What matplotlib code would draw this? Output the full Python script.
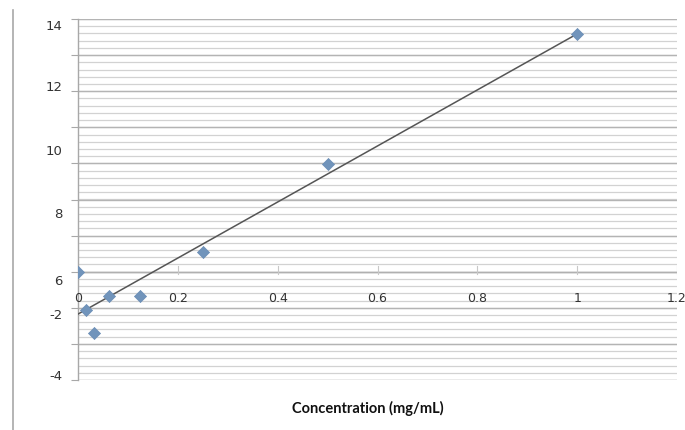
import numpy as np
import matplotlib
matplotlib.use("Agg")
import matplotlib.pyplot as plt
from matplotlib.lines import Line2D

# Data
concentration = [0.0, 0.015625, 0.03125, 0.0625, 0.125, 0.25, 0.5, 1.0]
response = [0.0, -2.12, -3.4, -1.35, -1.35, 1.1, 5.97, 13.17]

x_ticks = [0, 0.2, 0.4, 0.6, 0.8, 1.0, 1.2]
x_tick_labels = ["0", "0.2", "0.4", "0.6", "0.8", "1", "1.2"]
y_tick_labels = ["14", "12", "10", "8", "6", "-2", "-4"]
y_label_values = [13.67, 10.29, 6.74, 3.25, -0.45, -2.35, -5.72]
x_label = "Concentration (mg/mL)"

fig = plt.figure(figsize=(6.85, 4.30), dpi=100)
ax = fig.add_axes([78 / 685, 1 - 380 / 430, 599 / 685, 361 / 430])

ax.set_xlim(0, 1.2)
ax.set_ylim(-6, 14)

# gridlines
major_y = np.arange(-6, 14.01, 2)
minor_y = np.arange(-6, 14.01, 0.4)
for v in minor_y:
    ax.axhline(v, color="#d2d2d2", lw=0.9, zorder=0)
for v in major_y:
    ax.axhline(v, color="#b4b4b4", lw=1.0, zorder=0)

# spines
for s in ["top", "right", "bottom"]:
    ax.spines[s].set_visible(False)
ax.spines["left"].set_color("#a8a8a8")
ax.spines["left"].set_linewidth(1.0)

# x axis at y = 0
ax.axhline(0, color="#b0b0b0", lw=1.0, zorder=1)
ax.set_xticks(x_ticks)
ax.set_xticklabels([])
for xv, lab in zip(x_ticks, x_tick_labels):
    ax.plot([xv, xv], [-0.1, 0.3], color="#c8c8c8", lw=0.8, zorder=1)
    ax.annotate(lab, xy=(xv, 0), xytext=(0, -19), textcoords="offset points",
                ha="center", va="center", fontsize=9, color="#333333",
                family="DejaVu Sans", annotation_clip=False)
ax.tick_params(axis="x", length=0)

# y axis: major ticks at gridlines, labels at their reference places
ax.set_yticks(major_y)
ax.set_yticklabels([])
ax.tick_params(axis="y", which="major", length=5, color="#a8a8a8", direction="out")
ax.set_yticks(y_label_values, minor=True)
ax.set_yticklabels(y_tick_labels, minor=True)
ax.tick_params(axis="y", which="minor", length=0, pad=11, labelsize=9.5,
               labelcolor="#333333")

# trendline (least squares)
slope, intercept = np.polyfit(concentration, response, 1)
xs = np.array([min(concentration), max(concentration)])
ax.plot(xs, slope * xs + intercept, color="#555555", lw=1.1, zorder=3)

# data markers
ax.scatter(concentration, response, marker="D", s=38, color="#7194bb",
           edgecolors="#6a8db5", linewidths=0.5, zorder=4)

ax.text(0.483, -0.08, x_label, transform=ax.transAxes, ha="center", va="center",
        fontsize=10.5, fontweight="bold", family="Lato", color="#111111")

# left border of the chart area
fig.add_artist(Line2D([13 / 685, 13 / 685], [0, 1 - 10 / 430],
                      transform=fig.transFigure, color="#a8a8a8", lw=1.2))

fig.savefig("out.png", dpi=100, facecolor="white")
